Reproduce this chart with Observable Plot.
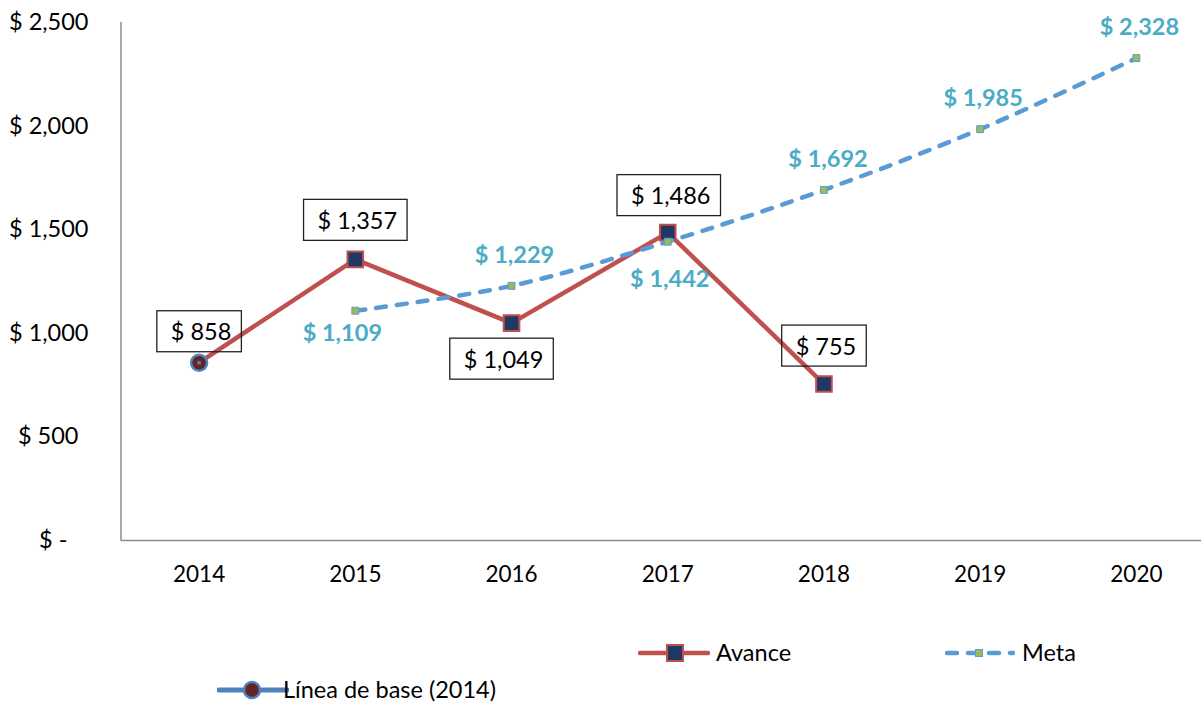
<!DOCTYPE html>
<html>
<head>
<meta charset="utf-8">
<script src="https://cdn.jsdelivr.net/npm/d3@7"></script>
<script src="https://cdn.jsdelivr.net/npm/@observablehq/plot@0.6"></script>
<style>
  html, body { margin: 0; padding: 0; background: #fff; }
  body { font-family: Lato, "Open Sans", sans-serif; }
  #wrap { position: relative; width: 1201px; height: 704px; overflow: hidden; }
  .leg { position: absolute; display: flex; align-items: center; font-size: 23.5px; line-height: 1; color: #000; white-space: nowrap; }
  .leg svg { display: block; }
</style>
</head>
<body>
<div id="wrap"></div>
<script>
// ---- data ----
const years = [2014, 2015, 2016, 2017, 2018, 2019, 2020];
const avanceYears = [2014, 2015, 2016, 2017, 2018];
const avanceValues = [858, 1357, 1049, 1486, 755];
const metaYears = [2015, 2016, 2017, 2018, 2019, 2020];
const metaValues = [1109, 1229, 1442, 1692, 1985, 2328];
const baseYears = [2014];
const baseValues = [858];
const yTicks = [0, 500, 1000, 1500, 2000, 2500];
const seriesNames = ["Avance", "Meta", "Línea de base (2014)"];

const avance = avanceYears.map((year, i) => ({year, value: avanceValues[i]}));
const meta = metaYears.map((year, i) => ({year, value: metaValues[i]}));
const base = baseYears.map((year, i) => ({year, value: baseValues[i]}));

const fmt = v => v === 0 ? "$ -" : "$ " + d3.format(",")(v);

// ---- colours ----
const RED = "#C0504D", NAVY = "#1F3864", BLUE = "#5B9BD5", GREEN = "#9BBB59",
      TEAL = "#4BACC6", BASEBLUE = "#4F81BD", DARKRED = "#632423", AXIS = "#8C8C8C",
      BOXTEXT = "#000001";

// ---- label placement (pixels, relative to point) ----
const avanceOffsets = {2014: [2, -30], 2015: [2, -38], 2016: [-8, 37], 2017: [3, -36], 2018: [2, -37]};
const metaOffsets = {2015: [-13, 23], 2016: [3, -30], 2017: [2, 38], 2018: [4, -30], 2019: [3, -31], 2020: [3, -31]};

const FS = 23.5;   // labels and y axis
const FSX = 22.5;  // x axis

const avanceLabels = avance.map(d => Plot.text([d], {
  x: "year", y: "value", text: d => fmt(d.value),
  dx: avanceOffsets[d.year][0], dy: avanceOffsets[d.year][1],
  fill: BOXTEXT, fontSize: FS, lineAnchor: "middle", textAnchor: "middle"
}));
const metaLabels = meta.map(d => Plot.text([d], {
  x: "year", y: "value", text: d => fmt(d.value),
  dx: metaOffsets[d.year][0], dy: metaOffsets[d.year][1],
  fill: TEAL, fontSize: FS, fontWeight: "bold", lineAnchor: "middle", textAnchor: "middle"
}));

const chart = Plot.plot({
  width: 1201,
  height: 610,
  marginTop: 22,
  marginBottom: 70,
  marginLeft: 120,
  marginRight: 0,
  style: {fontFamily: "Lato, 'Open Sans', sans-serif", fontSize: FS + "px", color: "#000", background: "#fff", overflow: "hidden"},
  x: {domain: [2013.5, 2020.5], range: [120.5, 1214]},
  y: {domain: [0, 2500]},
  marks: [
    Plot.ruleX([2013.5], {y1: 0, y2: 2500, stroke: AXIS, strokeWidth: 1.5}),
    Plot.ruleY([0], {x1: 2013.5, x2: 2020.5, stroke: AXIS, strokeWidth: 1.5}),
    Plot.axisX(years, {tickSize: 0, tickPadding: 26, tickFormat: d => String(d), fontSize: FSX, label: null}),
    Plot.axisY(yTicks.filter(v => v >= 1000), {tickSize: 0, tickPadding: 32, tickFormat: fmt, fontSize: FS, label: null}),
    Plot.axisY(yTicks.filter(v => v === 500), {tickSize: 0, tickPadding: 32, dx: -10, tickFormat: fmt, fontSize: FS, label: null}),
    Plot.axisY(yTicks.filter(v => v === 0), {tickSize: 0, tickPadding: 32, dx: -21, tickFormat: fmt, fontSize: FS, label: null}),
    // Avance
    Plot.line(avance, {x: "year", y: "value", stroke: RED, strokeWidth: 4.5, strokeLinejoin: "round"}),
    Plot.dot(avance.filter(d => d.year > 2014), {x: "year", y: "value", symbol: "square", r: 8.8, fill: NAVY, stroke: RED, strokeWidth: 2}),
    // Línea de base
    Plot.dot(base, {x: "year", y: "value", r: 8, fill: DARKRED, stroke: BASEBLUE, strokeWidth: 2.5}),
    Plot.dot(base, {x: "year", y: "value", symbol: "square", r: 2, fill: BASEBLUE}),
    // Meta
    Plot.line(meta, {x: "year", y: "value", stroke: BLUE, strokeWidth: 4.5, strokeDasharray: "10,11", strokeLinecap: "round", curve: "catmull-rom"}),
    Plot.dot(meta, {x: "year", y: "value", symbol: "square", r: 3.9, fill: GREEN, stroke: BLUE, strokeWidth: 1}),
    ...avanceLabels,
    ...metaLabels
  ]
});

const wrap = document.getElementById("wrap");
wrap.appendChild(chart);

// boxes around Avance labels
const svgRect = chart.getBoundingClientRect();
const boxed = chart.querySelectorAll(`[fill="${BOXTEXT}"] text, text[fill="${BOXTEXT}"]`);
boxed.forEach(t => {
  const r = t.getBoundingClientRect();
  const cx = r.x - svgRect.x + r.width / 2 - 2;
  const cy = r.y - svgRect.y + r.height / 2;
  const w = r.width + 24, h = 41;
  const rect = document.createElementNS("http://www.w3.org/2000/svg", "rect");
  rect.setAttribute("x", cx - w / 2);
  rect.setAttribute("y", cy - h / 2);
  rect.setAttribute("width", w);
  rect.setAttribute("height", h);
  rect.setAttribute("fill", "none");
  rect.setAttribute("stroke", "#222");
  rect.setAttribute("stroke-width", 1.3);
  chart.appendChild(rect);
});

// ---- legend ----
function legendItem(left, cy, swatchSvg, label, textGap) {
  const div = document.createElement("div");
  div.className = "leg";
  div.style.left = left + "px";
  div.style.top = (cy - 14) + "px";
  div.style.height = "28px";
  div.innerHTML = swatchSvg + `<span style="margin-left:${textGap}px">${label}</span>`;
  wrap.appendChild(div);
}
legendItem(638, 653,
  `<svg width="72" height="28"><line x1="2" y1="14" x2="70" y2="14" stroke="${RED}" stroke-width="4.5" stroke-linecap="round"/>
   <rect x="29" y="6" width="16" height="16" fill="${NAVY}" stroke="${RED}" stroke-width="2"/></svg>`,
  seriesNames[0], 6);
legendItem(945, 653,
  `<svg width="70" height="28"><line x1="2" y1="14" x2="68" y2="14" stroke="${BLUE}" stroke-width="4.5" stroke-dasharray="10,11" stroke-linecap="round"/>
   <rect x="30.5" y="10.5" width="7" height="7" fill="${GREEN}" stroke="${BLUE}" stroke-width="1"/></svg>`,
  seriesNames[1], 7);
legendItem(217, 690,
  `<svg width="72" height="28"><line x1="2" y1="14" x2="70" y2="14" stroke="${BASEBLUE}" stroke-width="5" stroke-linecap="round"/>
   <circle cx="35" cy="14" r="8" fill="${DARKRED}" stroke="${BASEBLUE}" stroke-width="2.5"/></svg>`,
  seriesNames[2], -6);
</script>
</body>
</html>
